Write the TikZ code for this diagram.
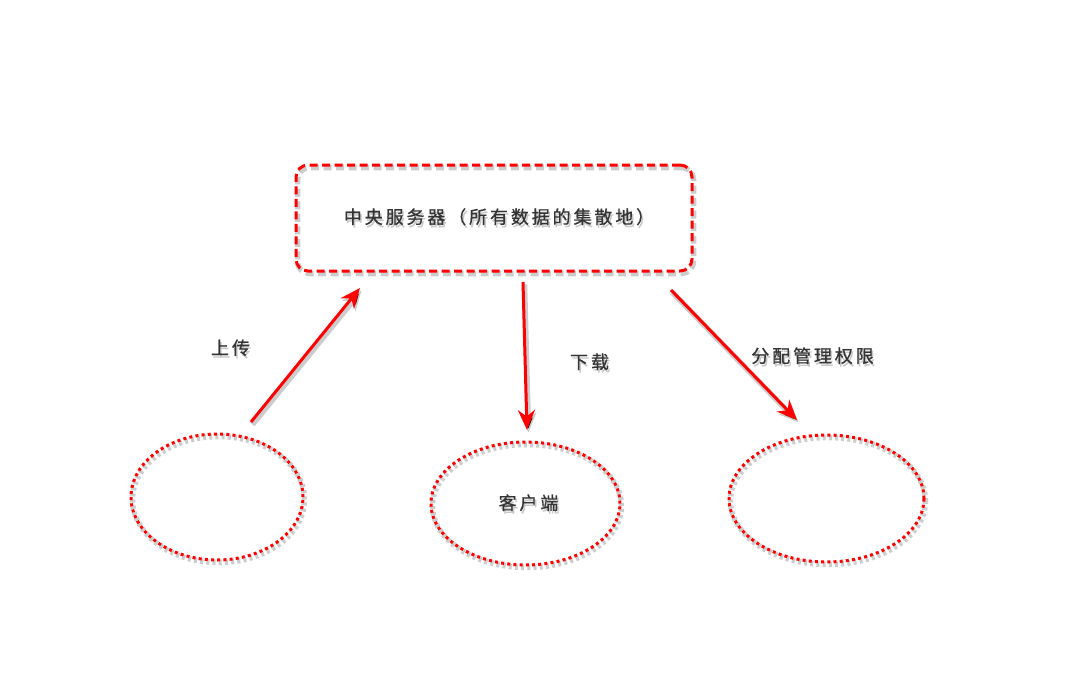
\documentclass[tikz,border=0pt]{standalone}
\usepackage{fontspec}
\newfontfamily\cjk[LetterSpace=16,FakeBold=0.6]{Noto Sans CJK SC}
\usetikzlibrary{arrows.meta,shapes.geometric}
\definecolor{txt}{HTML}{333333}
\definecolor{txtshadow}{HTML}{C8C8C8}
\newcommand{\softshadowtext}[1]{\rlap{\hspace{1.5pt}\raisebox{-2.5pt}{\textcolor{txtshadow}{#1}}}#1}
\tikzset{
  lbl/.style={font=\cjk\fontsize{18}{18}\selectfont, text=txt, inner sep=0pt},
  shd/.style={preaction={draw=black, draw opacity=0.2, line width=5.5pt,
      transform canvas={xshift=1.5pt,yshift=-2.5pt}}},
  box/.style={draw=red, line width=3pt, dash pattern=on 8pt off 4.5pt,
      rounded corners=12pt, minimum width=396pt, minimum height=106pt, inner sep=0pt, shd},
  oval/.style={ellipse, draw=red, line width=3pt, dash pattern=on 3pt off 3.2pt,
      inner sep=0pt, shd},
  arr/.style={draw=red, line width=3pt, -{Stealth[length=20pt,width=17pt]}, shd},
}
\begin{document}
\begin{tikzpicture}[x=1pt,y=-1pt]
\useasboundingbox (0,0) rectangle (1071,681);
% shapes
\node[box] (server) at (494,218) {};
\node[oval, minimum width=172pt, minimum height=126pt] (e1) at (217,497) {};
\node[oval, minimum width=189pt, minimum height=123pt] (e2) at (525.5,503.5) {};
\node[oval, minimum width=195pt, minimum height=127pt] (e3) at (826.5,498.5) {};
% texts
\node[lbl] (servertx) at (499,218) {\softshadowtext{中央服务器（所有数据的集散地）}};
\node[lbl] (e2tx) at (528.5,504) {\softshadowtext{客户端}};
\node[lbl] (l1) at (230.5,349) {\softshadowtext{上传}};
\node[lbl] (l2) at (589.5,363) {\softshadowtext{下载}};
\node[lbl] (l3) at (812.5,357) {\softshadowtext{分配管理权限}};
% arrow end points
\coordinate (a1s) at (251,422);
\coordinate (a1e) at (360,288);
\coordinate (a2s) at (523,282);
\coordinate (a2e) at (527,430);
\coordinate (a3s) at (671,290);
\coordinate (a3e) at (797,420);
\draw[arr] (a1s) -- (a1e);
\draw[arr] (a2s) -- (a2e);
\draw[arr] (a3s) -- (a3e);
\end{tikzpicture}
\end{document}
